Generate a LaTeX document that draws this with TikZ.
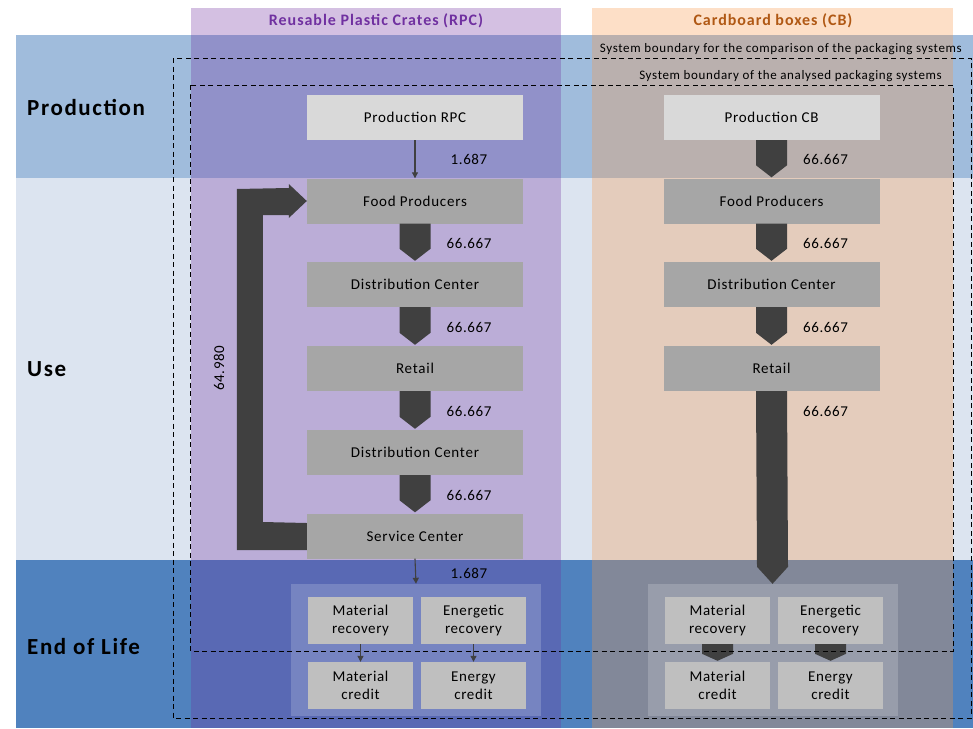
\documentclass[tikz,border=0pt]{standalone}
\usepackage{fontspec}
\setmainfont{Carlito}
\usetikzlibrary{arrows.meta}
\definecolor{bandprod}{RGB}{160,188,220}
\definecolor{banduse}{RGB}{220,228,240}
\definecolor{bandeol}{RGB}{80,130,190}
\definecolor{rpcpurple}{RGB}{112,48,160}
\definecolor{cborange}{RGB}{247,150,70}
\definecolor{cbtext}{RGB}{176,88,20}
\definecolor{boxgray}{RGB}{166,166,166}
\definecolor{prodgray}{RGB}{217,217,217}
\definecolor{eolgray}{RGB}{191,191,191}
\definecolor{arrowdark}{RGB}{64,64,64}
\tikzset{
  stagebox/.style={fill=boxgray, minimum width=216pt, minimum height=45pt, inner sep=0pt, font=\fontsize{15}{17}\selectfont\addfontfeature{LetterSpace=5}},
  prodbox/.style={stagebox, fill=prodgray},
  eolbox/.style={fill=eolgray, minimum width=105pt, minimum height=47pt, inner sep=0pt, align=center, font=\fontsize{15}{18}\selectfont\addfontfeature{LetterSpace=4}},
  eolgroup/.style={fill=white, fill opacity=0.18, minimum width=250pt, minimum height=132pt, inner sep=0pt},
  flowlabel/.style={font=\fontsize{15}{17}\selectfont\addfontfeature{LetterSpace=4}, inner sep=0pt},
  phaselabel/.style={font=\bfseries\fontsize{23}{27}\selectfont\addfontfeature{LetterSpace=7}, anchor=west, inner sep=0pt},
  colhead/.style={font=\bfseries\fontsize{16}{19}\selectfont\addfontfeature{LetterSpace=6}, inner sep=0pt},
  boundary/.style={line width=0.9pt, black, dash pattern=on 5pt off 3.5pt},
  bndlabel/.style={font=\fontsize{13}{15}\selectfont\addfontfeature{LetterSpace=5}, anchor=east, inner sep=0pt},
  thinarrow/.style={draw=arrowdark, line width=1.1pt, -{Triangle[length=6pt,width=6pt]}},
  blk/.style={fill=arrowdark},
}
\begin{document}
\begin{tikzpicture}[x=1pt,y=-1pt]
\useasboundingbox (0,0) rectangle (973,728);
% phase bands
\fill[bandprod] (16,35) rectangle (973,178);
\fill[banduse] (16,178) rectangle (973,560);
\fill[bandeol] (16,560) rectangle (973,728);
% columns
\fill[rpcpurple, opacity=0.3] (191,8) rectangle (561,728);
\fill[cborange, opacity=0.3] (592,8) rectangle (953,728);
\node[colhead, text=rpcpurple] (hrpc) at (376,21) {Reusable Plastic Crates (RPC)};
\node[colhead, text=cbtext] (hcb) at (773,21) {Cardboard boxes (CB)};
% phase labels
\node[phaselabel] (lprod) at (27,107) {Production};
\node[phaselabel] (luse) at (27,369) {Use};
\node[phaselabel] (leol) at (27,647) {End of Life};
% RPC boxes
\node[prodbox] (rprod) at (415,117.5) {Production RPC};
\node[stagebox] (rfood) at (415,201) {Food Producers};
\node[stagebox] (rdc1) at (415,284.5) {Distribution Center};
\node[stagebox] (rret) at (415,368.5) {Retail};
\node[stagebox] (rdc2) at (415,452.5) {Distribution Center};
\node[stagebox] (rserv) at (415,536) {Service Center};
% CB boxes
\node[prodbox] (cprod) at (771.5,117.5) {Production CB};
\node[stagebox] (cfood) at (771.5,201) {Food Producers};
\node[stagebox] (cdc) at (771.5,284.5) {Distribution Center};
\node[stagebox] (cret) at (771.5,368.5) {Retail};
% EoL groups
\node[eolgroup] (rgrp) at (416,650) {};
\node[eolgroup] (cgrp) at (772.5,650) {};
\node[eolbox] (rmr) at (360.5,620.5) {Material\\recovery};
\node[eolbox] (rer) at (473.5,620.5) {Energetic\\recovery};
\node[eolbox] (rmc) at (360.5,685.5) {Material\\credit};
\node[eolbox] (rec) at (473.5,685.5) {Energy\\credit};
\node[eolbox] (cmr) at (717.5,620.5) {Material\\recovery};
\node[eolbox] (cer) at (830.5,620.5) {Energetic\\recovery};
\node[eolbox] (cmc) at (717.5,685.5) {Material\\credit};
\node[eolbox] (cec) at (830.5,685.5) {Energy\\credit};
% block arrows RPC
\foreach \a/\b in {rfood/rdc1, rdc1/rret, rret/rdc2, rdc2/rserv}{
  \fill[blk] ([xshift=-15.5pt]\a.south) -- ([xshift=15.5pt]\a.south) -- ([xshift=15.5pt,yshift=13pt]\b.north) -- ([yshift=1pt]\b.north) -- ([xshift=-15.5pt,yshift=13pt]\b.north) -- cycle;
}
% block arrows CB
\foreach \a/\b in {cprod/cfood, cfood/cdc, cdc/cret}{
  \fill[blk] ([xshift=-15.5pt]\a.south) -- ([xshift=15.5pt]\a.south) -- ([xshift=15.5pt,yshift=13pt]\b.north) -- ([yshift=1pt]\b.north) -- ([xshift=-15.5pt,yshift=13pt]\b.north) -- cycle;
}
\fill[blk] ([xshift=-15.5pt]cret.south) -- ([xshift=15.5pt]cret.south) -- ([xshift=15.5pt,yshift=17pt]cgrp.north) -- (cgrp.north) -- ([xshift=-15.5pt,yshift=17pt]cgrp.north) -- cycle;
\foreach \a/\b in {cmr/cmc, cer/cec}{
  \fill[blk] ([xshift=-15.5pt]\a.south) -- ([xshift=15.5pt]\a.south) -- ([xshift=15.5pt,yshift=8pt]\b.north) -- ([yshift=1pt]\b.north) -- ([xshift=-15.5pt,yshift=8pt]\b.north) -- cycle;
}
% feedback arrow
\fill[blk] ([yshift=-14pt]rserv.west) -- ++(-70,0) -- ++(0,-361) -- ([xshift=-18pt,yshift=13pt]rfood.west) -- ([xshift=-18pt,yshift=17pt]rfood.west) -- (rfood.west) -- ([xshift=-18pt,yshift=-17pt]rfood.west) -- ([xshift=-18pt,yshift=-14pt]rfood.west) -- ++(-26,0) -- ++(0,307) -- ([yshift=13pt]rserv.west) -- cycle;
% thin arrows
\draw[thinarrow] (rprod.south) -- (rfood.north);
\draw[thinarrow] (rserv.south) -- (rgrp.north);
\draw[thinarrow] (rmr.south) -- (rmc.north);
\draw[thinarrow] (rer.south) -- (rec.north);
% flow labels
\node[flowlabel] (n1) at (469,159) {1.687};
\node[flowlabel] (n2) at (469,243) {66.667};
\node[flowlabel] (n3) at (469,327) {66.667};
\node[flowlabel] (n4) at (469,411) {66.667};
\node[flowlabel] (n5) at (469,495) {66.667};
\node[flowlabel] (n6) at (469,573) {1.687};
\node[flowlabel, rotate=90] (n7) at (219,368) {64.980};
\node[flowlabel] (m1) at (825.5,159) {66.667};
\node[flowlabel] (m2) at (825.5,243) {66.667};
\node[flowlabel] (m3) at (825.5,327) {66.667};
\node[flowlabel] (m4) at (825.5,411) {66.667};
% system boundaries
\draw[boundary] (173,58) rectangle (971,718);
\draw[boundary] (190,85) rectangle (953,651);
\node[bndlabel] (b1) at (962,49) {System boundary for the comparison of the packaging systems};
\node[bndlabel] (b2) at (942,76) {System boundary of the analysed packaging systems};
\end{tikzpicture}
\end{document}
